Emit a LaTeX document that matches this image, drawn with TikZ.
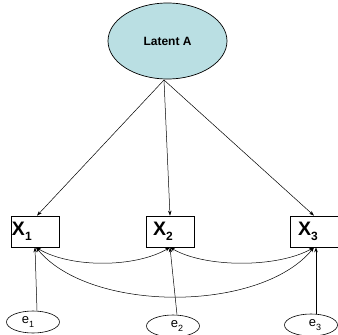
\documentclass[tikz,border=0pt]{standalone}
\usepackage{fontspec}
\setmainfont{Liberation Sans}
\usetikzlibrary{shapes.geometric,arrows.meta}
\definecolor{latfill}{RGB}{186,223,227}
\tikzset{
  lat/.style={ellipse,draw,fill=latfill,line width=0.7pt,minimum width=119pt,minimum height=76pt,inner sep=0pt,font=\fontsize{12}{12}\selectfont\bfseries},
  obs/.style={rectangle,draw,line width=0.7pt,minimum width=48pt,minimum height=31pt,inner sep=0pt,text width=46pt,align=left,font=\fontsize{19.5}{19.5}\selectfont\bfseries},
  err/.style={ellipse,draw,line width=0.6pt,minimum width=53pt,minimum height=22pt,inner sep=0pt,font=\fontsize{13}{13}\selectfont},
  arr/.style={line width=0.5pt,-{Stealth[length=5pt,width=3.5pt]}},
  darr/.style={line width=0.5pt,{Stealth[length=5pt,width=3.5pt]}-{Stealth[length=5pt,width=3.5pt]}}
}
\newcommand{\xsub}[1]{{\fontsize{12}{12}\selectfont\raisebox{-5pt}{#1}}}
\newcommand{\esub}[1]{{\fontsize{9}{9}\selectfont\raisebox{-4pt}{#1}}}
\begin{document}
\begin{tikzpicture}[x=1pt,y=-1pt]
\useasboundingbox (0,0) rectangle (338,335);
\node[lat] (la) at (167.5,41) {Latent A};
\coordinate (lb) at (164,80);
\node[obs] (x1) at (35,231.5) {\hspace*{0pt}X\xsub{1}};
\node[obs] (x2) at (170,231.5) {\hspace*{6pt}X\xsub{2}};
\node[obs] (x3) at (314,231.5) {\hspace*{7pt}X\xsub{3}};
\node[err] (e1) at (33,322) {e\esub{1}\hspace*{10pt}};
\node[err] (e2) at (173,326) {\hspace*{8pt}e\esub{2}};
\node[err] (e3) at (311,325) {\hspace*{8pt}e\esub{3}};
\draw[arr] (lb) -- ([xshift=2pt]x1.north);
\draw[arr] (lb) -- ([xshift=0pt]x2.north);
\draw[arr] (lb) -- ([xshift=0pt]x3.north);
\draw[arr] ([xshift=4pt]e1.north) -- ([xshift=0pt]x1.south);
\draw[arr] ([xshift=4pt]e2.north) -- ([xshift=0pt]x2.south);
\draw[arr] ([xshift=5pt]e3.north) -- ([xshift=2pt]x3.south);
\draw[darr] ([xshift=1pt]x1.south) .. controls (70,268) and (135,268) .. ([xshift=0pt]x2.south);
\draw[darr] ([xshift=0pt]x2.south) .. controls (205,268) and (278,268) .. ([xshift=0pt]x3.south);
\draw[darr] ([xshift=1pt]x1.south) .. controls (90,313) and (260,313) .. ([xshift=0pt]x3.south);
\end{tikzpicture}
\end{document}
